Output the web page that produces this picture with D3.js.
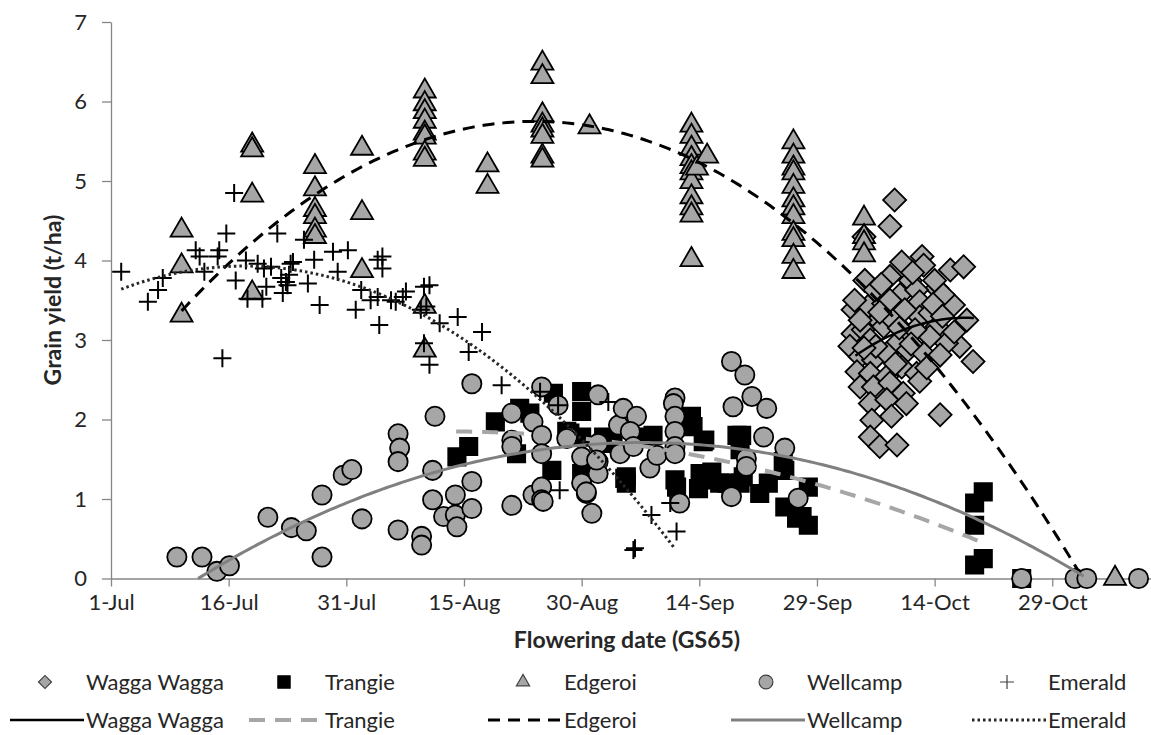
<!DOCTYPE html>
<html>
<head>
<meta charset="utf-8">
<script src="https://cdn.jsdelivr.net/npm/d3@7"></script>
<style>
body { margin: 0; background: #fff; }
svg text { font-family: Lato, "Open Sans", sans-serif; fill: #262626; }
</style>
</head>
<body>
<svg id="chart"></svg>
<script>
/* x values are days after 1-Jul, y values are grain yield in t/ha */
const sites = ['Wagga Wagga', 'Trangie', 'Edgeroi', 'Wellcamp', 'Emerald'];

const waggaDay = [99.9, 99.3, 96.1, 100.8, 103.4, 103.6, 107.0, 108.7, 99.3, 101.9, 105.3, 107.4, 109.1, 94.6, 96.5, 98.5, 100.6, 102.7, 103.1, 106.1,
    94.6, 95.9, 94.2, 97.8, 98.5, 99.7, 103.1, 104.4, 105.3, 108.2, 109.9, 106.5, 104.4, 101.4, 100.2, 96.8, 95.5, 97.2, 98.9, 101.6,
    103.6, 105.7, 95.1, 96.8, 98.9, 100.8, 102.7, 95.5, 97.2, 99.3, 101.0, 103.1, 96.8, 98.9, 101.4, 97.0, 99.5, 105.7, 96.8, 98.0,
    100.2, 96.0, 94.8, 95.5, 97.4, 99.3, 101.2, 102.5, 104.8, 106.0, 107.5, 97.5, 100.0, 102.0, 104.0, 98.0, 100.5, 96.0, 105.0, 102.2, 98.2];
const waggaYield = [4.76, 4.43, 3.75, 3.98, 4.05, 3.94, 3.88, 3.92, 3.80, 3.75, 3.65, 3.44, 3.25, 3.38, 3.42, 3.46, 3.57, 3.63, 3.48, 3.57,
    3.08, 3.13, 2.92, 3.25, 3.17, 3.25, 3.29, 3.34, 3.17, 2.92, 2.73, 2.96, 3.04, 3.08, 2.96, 3.00, 2.79, 2.75, 2.83, 2.87,
    2.83, 2.81, 2.60, 2.58, 2.54, 2.66, 2.58, 2.41, 2.41, 2.46, 2.33, 2.48, 2.20, 2.25, 2.20, 1.99, 2.04, 2.06, 1.78, 1.66,
    1.68, 4.30, 3.50, 3.25, 3.63, 3.50, 3.38, 3.13, 3.45, 3.30, 3.10, 2.92, 2.70, 2.95, 2.65, 3.35, 3.15, 2.90, 3.75, 3.85, 3.70];

const trangieDay = [44.1, 45.6, 49.0, 52.1, 53.4, 51.7, 56.2, 56.4, 60.0, 60.0, 58.5, 60.0, 60.0, 62.8, 64.0, 65.7, 65.7, 67.9, 69.1, 74.0,
    74.2, 75.5, 71.9, 72.1, 75.1, 74.9, 76.6, 77.6, 79.8, 80.4, 80.2, 80.2, 82.7, 83.8, 85.9, 85.7, 87.4, 58.1, 65.5, 76.4,
    75.7, 78.5, 80.6, 85.9, 88.1, 88.9, 88.9, 111.2, 110.1, 110.1, 111.2, 110.1, 116.1];
const trangieYield = [1.53, 1.66, 1.97, 2.14, 2.08, 1.57, 1.36, 2.33, 2.35, 2.10, 1.83, 1.78, 1.32, 1.78, 1.70, 1.28, 1.20, 1.78, 1.80, 2.04,
    1.91, 1.72, 1.24, 1.15, 1.32, 1.13, 1.34, 1.20, 1.80, 1.80, 1.62, 1.20, 1.07, 1.20, 0.90, 1.47, 0.76, 1.85, 1.26, 1.24,
    1.74, 1.20, 1.28, 1.36, 0.78, 0.67, 1.15, 1.09, 0.95, 0.67, 0.25, 0.17, 0];

const edgeroiDay = [9, 9, 9, 18, 18, 18, 18, 26, 26, 26, 26, 26, 26, 32, 32, 32,
    40, 40, 40, 40, 40, 40, 40, 40, 40, 40, 48, 48, 55, 55, 55, 55, 55, 55, 55, 55, 61,
    74, 74, 74, 74, 74, 74, 74, 74, 74, 74, 74, 74.7, 76,
    87, 87, 87, 87, 87, 87, 87, 87, 87, 87, 87, 87, 96, 96, 96, 96, 128];
const edgeroiYield = [4.38, 3.93, 3.31, 5.45, 5.39, 4.82, 3.59, 5.18, 4.90, 4.64, 4.55, 4.38, 4.30, 5.41, 4.60, 3.87,
    6.13, 5.97, 5.87, 5.75, 5.60, 5.55, 5.35, 5.27, 3.42, 2.87, 5.20, 4.93, 6.48, 6.31, 5.83, 5.70, 5.64, 5.56, 5.31, 5.26, 5.68,
    5.70, 5.56, 5.41, 5.28, 5.18, 5.10, 4.99, 4.80, 4.66, 4.57, 4.01, 5.16, 5.31,
    5.49, 5.31, 5.16, 5.10, 4.93, 4.76, 4.66, 4.55, 4.34, 4.26, 4.05, 3.86, 4.53, 4.30, 4.22, 4.07, 0];

const wellcampDay = [8.4, 11.6, 13.5, 15.1, 20.0, 23.0, 24.9, 26.9, 26.9, 29.6, 30.7, 32.0, 36.6, 36.8, 36.6, 36.6, 41.3, 41.0, 41.0, 42.4,
    39.6, 39.6, 43.9, 43.9, 44.1, 46.0, 46.0, 46.0, 51.1, 51.1, 51.1, 51.1, 53.8, 54.9, 54.9, 53.8, 54.9, 54.9, 54.9, 57.0,
    58.3, 60.0, 60.6, 61.3, 62.1, 62.1, 62.1, 62.1, 64.7, 65.3, 67.0, 66.2, 64.9, 66.6, 68.7, 69.6, 71.9, 71.7, 71.9, 71.9,
    71.9, 71.9, 72.5, 79.1, 80.8, 79.3, 81.7, 83.6, 81.0, 81.0, 79.1, 83.2, 85.9, 87.6, 58.1, 61.9, 60.0, 60.6, 55.1,
    116.1, 122.9, 124.4, 131.0];
const wellcampYield = [0.27, 0.27, 0.09, 0.16, 0.77, 0.64, 0.60, 0.27, 1.05, 1.30, 1.37, 0.75, 1.82, 1.64, 1.47, 0.61, 2.04, 1.36, 0.99, 0.78,
    0.53, 0.42, 1.05, 0.80, 0.65, 1.22, 0.88, 2.45, 0.92, 2.08, 1.74, 1.66, 1.05, 1.15, 0.99, 1.97, 2.41, 1.80, 1.57, 2.18,
    1.78, 1.53, 1.07, 0.82, 2.31, 1.70, 1.47, 1.32, 1.93, 2.14, 2.04, 1.85, 1.57, 1.66, 1.39, 1.55, 2.27, 2.20, 2.04, 1.85,
    1.66, 1.57, 0.95, 2.73, 2.56, 2.16, 2.29, 2.14, 1.51, 1.41, 1.03, 1.78, 1.64, 1.01, 1.76, 1.49, 1.20, 1.09, 0.97,
    0, 0, 0, 0];

const emeraldDay = [1.3, 4.7, 6.0, 6.6, 10.8, 11.3, 11.9, 13.8, 13.6, 14.7, 15.7, 14.2, 15.9, 17.2, 17.4, 18.7, 19.3, 19.5, 20.4, 21.2,
    21.7, 21.9, 22.3, 22.7, 22.9, 23.2, 22.5, 19.8, 25.1, 25.9, 26.6, 24.6, 28.3, 28.9, 30.2, 31.2, 31.9, 34.0, 34.6, 34.6,
    34.2, 33.1, 34.0, 35.7, 36.3, 37.6, 37.2, 39.9, 40.6, 39.5, 40.2, 41.9, 44.2, 40.6, 39.9, 45.6, 47.3, 49.8, 54.7, 57.0,
    63.4, 57.2, 68.9, 71.3, 72.1, 66.6, 66.8];
const emeraldYield = [3.86, 3.48, 3.63, 3.78, 4.13, 4.05, 3.86, 4.13, 4.05, 4.34, 4.85, 2.77, 3.75, 4.00, 3.52, 3.96, 3.52, 3.90, 3.92, 4.34,
    3.78, 3.59, 3.73, 3.82, 3.96, 3.98, 3.69, 3.67, 3.71, 4.01, 3.44, 4.26, 4.11, 3.86, 4.13, 3.38, 3.63, 4.01, 3.90, 4.05,
    3.19, 3.50, 3.54, 3.50, 3.48, 3.61, 3.54, 3.67, 3.69, 3.38, 3.42, 3.21, 3.29, 2.69, 2.96, 2.85, 3.10, 2.43, 2.35, 2.18,
    2.22, 1.11, 0.80, 0.95, 0.59, 0.36, 0.38];

/* quadratic trend lines, in site order: y = peak + curve * (day - peakDay)^2 */
const trendFrom = [94.9, 44, 9, 11.1, 1.3];
const trendTo = [110, 111.4, 123.9, 124, 71.9];
const trendPeakDay = [109, 43, 54, 67.8, 17];
const trendPeak = [3.28, 1.85, 5.75, 1.71, 3.93];
const trendCurve = [-0.0024, -0.0003016, -0.001177, -0.000532, -0.00118];

const xTickLabels = ['1-Jul', '16-Jul', '31-Jul', '15-Aug', '30-Aug', '14-Sep', '29-Sep', '14-Oct', '29-Oct'];
const yTicks = [0, 1, 2, 3, 4, 5, 6, 7];

const parseDay = d3.utcParse('%d-%b-%Y');
const seasonStart = parseDay('1-Jul-2013');
const toDate = d => new Date(seasonStart.getTime() + d * 864e5);

const pointData = [
    {site: 'Wagga Wagga', days: waggaDay, values: waggaYield},
    {site: 'Trangie', days: trangieDay, values: trangieYield},
    {site: 'Edgeroi', days: edgeroiDay, values: edgeroiYield},
    {site: 'Wellcamp', days: wellcampDay, values: wellcampYield},
    {site: 'Emerald', days: emeraldDay, values: emeraldYield}
].map(s => ({site: s.site, points: s.days.map((d, i) => ({date: toDate(d), value: s.values[i]}))}));

draw_chart();

function draw_chart() {
    const svg = d3.select('#chart')
        .attr('width', 1151)
        .attr('height', 735);

    /* Set the dimensions for the plot area */
    const left = 111, top = 22, bottom = 578.5;

    const x = d3.scaleUtc()
        .domain([toDate(0), toDate(135)])
        .range([left, left + 135 * 7.844]);

    const y = d3.scaleLinear()
        .domain([0, 7])
        .range([bottom, top]);

    /* marker styles per site */
    const plus = 'M-9,0H9M0,-9V9';
    const markers = {
        'Wagga Wagga': {path: d3.symbol(d3.symbolSquare, 265)(), rotate: 45, fill: '#a6a6a6'},
        'Trangie': {path: d3.symbol(d3.symbolSquare, 300)(), rotate: 0, fill: '#000'},
        'Edgeroi': {path: d3.symbol(d3.symbolTriangle, 210)(), rotate: 0, fill: '#a6a6a6'},
        'Wellcamp': {path: d3.symbol(d3.symbolCircle, 290)(), rotate: 0, fill: '#a6a6a6'},
        'Emerald': {path: plus, rotate: 0, fill: 'none'}
    };
    const lineStyles = [
        {color: '#000', width: 2.5, dash: null},
        {color: '#a6a6a6', width: 4, dash: '16,10'},
        {color: '#000', width: 3, dash: '12,8'},
        {color: '#808080', width: 3, dash: null},
        {color: '#262626', width: 3, dash: '2.5,3'}
    ];

    /* Axes */
    const tickDates = xTickLabels.map(t => parseDay(t + '-2013'));
    const xAxis = svg.append('g')
        .attr('transform', 'translate(0,' + bottom + ')')
        .call(d3.axisBottom(x).tickValues(tickDates).tickFormat((d, i) => xTickLabels[i])
            .tickSize(8).tickSizeOuter(0).tickPadding(8));

    const yAxis = svg.append('g')
        .attr('transform', 'translate(' + left + ',0)')
        .call(d3.axisLeft(y).tickValues(yTicks).tickFormat(d3.format('d'))
            .tickSize(9).tickSizeOuter(0).tickPadding(15));

    [xAxis, yAxis].forEach(a => {
        a.select('.domain').attr('stroke', '#868686').attr('stroke-width', 1.3);
        a.selectAll('.tick line').attr('stroke', '#868686').attr('stroke-width', 1.3);
        a.selectAll('.tick text').attr('font-size', 22).style('font-family', 'Lato').attr('fill', '#262626');
    });

    /* Axis titles */
    svg.append('text')
        .attr('transform', 'translate(61,300) rotate(-90)')
        .attr('text-anchor', 'middle')
        .attr('font-size', 23)
        .attr('font-weight', 'bold')
        .attr('fill', '#000')
        .text('Grain yield (t/ha)');

    svg.append('text')
        .attr('x', 627)
        .attr('y', 648)
        .attr('text-anchor', 'middle')
        .attr('font-size', 23)
        .attr('font-weight', 'bold')
        .attr('fill', '#000')
        .text('Flowering date (GS65)');

    /* Adding markers, site by site */
    pointData.forEach(s => {
        const m = markers[s.site];
        svg.append('g')
            .selectAll('path')
            .data(s.points)
            .enter().append('path')
            .attr('d', m.path)
            .attr('transform', d => 'translate(' + x(d.date) + ',' + y(d.value) + ') rotate(' + m.rotate + ')')
            .attr('fill', m.fill)
            .attr('stroke', '#000')
            .attr('stroke-width', s.site === 'Emerald' ? 2 : 1.8);
    });

    /* Adding trend lines */
    const line = d3.line()
        .x(d => x(toDate(d[0])))
        .y(d => y(d[1]));

    sites.forEach((site, i) => {
        const pts = d3.range(trendFrom[i], trendTo[i], 0.5).concat([trendTo[i]])
            .map(d => [d, trendPeak[i] + trendCurve[i] * (d - trendPeakDay[i]) ** 2]);
        svg.append('path')
            .datum(pts)
            .attr('d', line)
            .attr('fill', 'none')
            .attr('stroke', lineStyles[i].color)
            .attr('stroke-width', lineStyles[i].width)
            .attr('stroke-dasharray', lineStyles[i].dash);
    });

    /* Adding legend: markers on the first row, trend lines on the second */
    const legendText = [86, 325, 564, 807, 1048];
    const row1 = 682, row2 = 720;
    const legendMarkers = {
        'Wagga Wagga': d3.symbol(d3.symbolSquare, 85)(),
        'Trangie': d3.symbol(d3.symbolSquare, 150)(),
        'Edgeroi': d3.symbol(d3.symbolTriangle, 75)(),
        'Wellcamp': d3.symbol(d3.symbolCircle, 150)(),
        'Emerald': 'M-7,0H7M0,-7V7'
    };

    sites.forEach((site, i) => {
        const tx = legendText[i];
        const m = markers[site];
        svg.append('path')
            .attr('d', legendMarkers[site])
            .attr('transform', 'translate(' + (tx - 41) + ',' + row1 + ') rotate(' + m.rotate + ')')
            .attr('fill', m.fill)
            .attr('stroke', site === 'Trangie' ? '#000' : '#404040')
            .attr('stroke-width', 1.2);

        svg.append('line')
            .attr('x1', tx - 76)
            .attr('x2', tx - 2)
            .attr('y1', row2)
            .attr('y2', row2)
            .attr('stroke', lineStyles[i].color)
            .attr('stroke-width', lineStyles[i].width)
            .attr('stroke-dasharray', lineStyles[i].dash);

        [row1, row2].forEach(ry => {
            svg.append('text')
                .attr('x', tx)
                .attr('y', ry)
                .attr('dy', '0.35em')
                .attr('font-size', 22)
                .text(site);
        });
    });
}
</script>
</body>
</html>
